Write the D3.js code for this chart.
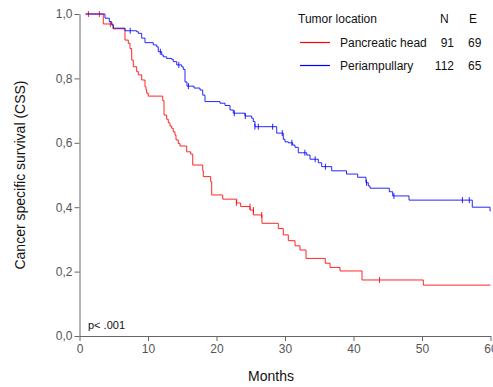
<!DOCTYPE html>
<html>
<head>
<meta charset="utf-8">
<script src="https://cdn.jsdelivr.net/npm/d3@7"></script>
<style>
  body { margin: 0; background: #fff; }
  svg { font-family: "Liberation Sans", Arial, sans-serif; }
</style>
</head>
<body>
<div id="chart"></div>
<script>
// step data: months, survival after each step
var headTimes = [0.9, 3.47, 4.89, 6.64, 7.12, 7.37, 7.62, 7.85, 8.35, 8.58, 9.08, 9.56, 9.71, 9.81, 10.04,
  12.15, 12.34, 12.73, 12.96, 13.21, 13.46, 13.69, 13.94, 14.09, 14.42, 14.67, 15.65, 16.23, 16.53,
  17.99, 18.07, 19.15, 19.30, 20.91, 22.95, 23.53, 24.89, 25.37, 26.64, 29.02, 29.75, 30.48, 31.46,
  32.19, 33.07, 35.88, 36.57, 38.03, 41.24, 50.19, 60];
var headSurv = [1.0, 0.969, 0.954, 0.919, 0.909, 0.893, 0.857, 0.836, 0.821, 0.811, 0.795, 0.774, 0.764, 0.754, 0.745,
  0.731, 0.686, 0.673, 0.662, 0.652, 0.645, 0.634, 0.624, 0.609, 0.598, 0.590, 0.572, 0.565, 0.531,
  0.513, 0.495, 0.479, 0.438, 0.425, 0.413, 0.402, 0.391, 0.376, 0.350, 0.334, 0.314, 0.296, 0.280,
  0.267, 0.241, 0.226, 0.213, 0.202, 0.174, 0.158, 0.158];
var headCensT = [1.3, 2.9, 4.5, 22.9, 24.9, 25.4, 26.6, 43.8];
var headCensS = [1.0, 1.0, 0.969, 0.413, 0.402, 0.391, 0.376, 0.174];

var periTimes = [0.9, 3.72, 4.35, 4.70, 4.93, 6.64, 8.35, 8.58, 9.08, 9.56, 10.77, 11.27, 11.50, 12.00, 12.23,
  12.73, 13.46, 13.69, 14.19, 14.92, 15.15, 15.40, 15.69, 16.72, 17.59, 17.99, 18.32, 20.51, 21.24,
  21.97, 22.45, 24.16, 25.14, 25.37, 25.62, 28.79, 29.75, 30.0, 30.48, 31.12, 31.46, 31.94, 33.17,
  33.65, 34.86, 35.36, 36.82, 38.98, 40.61, 41.82, 42.16, 42.41, 45.23, 45.72, 48.10, 57.34, 59.93, 60];
var periSurv = [1.0, 0.987, 0.976, 0.966, 0.956, 0.948, 0.945, 0.940, 0.925, 0.911, 0.904, 0.898, 0.883, 0.873, 0.867,
  0.862, 0.859, 0.852, 0.842, 0.836, 0.828, 0.789, 0.776, 0.770, 0.764, 0.748, 0.728, 0.723, 0.716,
  0.702, 0.692, 0.683, 0.676, 0.666, 0.650, 0.630, 0.611, 0.603, 0.600, 0.593, 0.586, 0.569, 0.562,
  0.549, 0.538, 0.526, 0.513, 0.503, 0.493, 0.476, 0.466, 0.459, 0.448, 0.435, 0.422, 0.400, 0.388, 0.388];
var periCensT = [7.4, 11.8, 14.5, 15.9, 22.6, 24.2, 25.6, 26.1, 28.2, 29.6, 31.0, 32.9, 34.4, 35.9, 41.9, 45.9, 55.9, 56.9];
var periCensS = [0.948, 0.883, 0.842, 0.776, 0.692, 0.683, 0.650, 0.650, 0.650, 0.630, 0.600, 0.569, 0.549, 0.526, 0.476, 0.435, 0.422, 0.422];

var groups = ["Pancreatic head", "Periampullary"];
var groupN = [91, 112];
var groupE = [69, 65];
var groupColors = ["#ff0000", "#0000ff"];

var xTicks = [0, 10, 20, 30, 40, 50, 60];
var yTicks = [0, 0.2, 0.4, 0.6, 0.8, 1.0];

function drawChart() {
  var W = 493, H = 387;
  var margin = {top: 14, right: 2.5, bottom: 51, left: 79.5};
  var width = W - margin.left - margin.right,
      height = H - margin.top - margin.bottom;

  var svg = d3.select("#chart").append("svg")
    .attr("width", W).attr("height", H)
    .style("overflow", "visible");

  var g = svg.append("g")
    .attr("transform", "translate(" + margin.left + "," + margin.top + ")");

  var x = d3.scaleLinear().domain([0, 60]).range([0, width]);
  var y = d3.scaleLinear().domain([0, 1]).range([height, 0]);

  // axes
  var xAxis = g.append("g")
    .attr("transform", "translate(0," + height + ")")
    .call(d3.axisBottom(x).tickValues(xTicks).tickSize(5).tickSizeOuter(0).tickPadding(3));
  var yAxis = g.append("g")
    .call(d3.axisLeft(y).tickValues(yTicks).tickSize(5).tickSizeOuter(0).tickPadding(2)
      .tickFormat(function(d) { return d3.format(".1f")(d).replace(".", ","); }));

  [xAxis, yAxis].forEach(function(a) {
    a.select(".domain").attr("stroke", "#666");
    a.selectAll(".tick line").attr("stroke", "#666");
    a.selectAll(".tick text").attr("fill", "#555")
      .style("font-size", "12px").style("font-family", "Liberation Sans, Arial, sans-serif");
  });

  // curves
  var line = d3.line()
    .x(function(d) { return x(d[0]); })
    .y(function(d) { return y(d[1]); })
    .curve(d3.curveStepAfter);

  var series = [
    {t: headTimes, s: headSurv, ct: headCensT, cs: headCensS, color: groupColors[0]},
    {t: periTimes, s: periSurv, ct: periCensT, cs: periCensS, color: groupColors[1]}
  ];

  series.forEach(function(sr) {
    var pts = sr.t.map(function(t, i) { return [t, sr.s[i]]; });
    g.append("path")
      .datum(pts)
      .attr("fill", "none")
      .attr("stroke", sr.color)
      .attr("stroke-width", 1)
      .attr("opacity", 0.85)
      .attr("d", line);

    var cens = sr.ct.map(function(t, i) { return [t, sr.cs[i]]; });
    g.selectAll(null)
      .data(cens)
      .enter()
      .append("line")
      .attr("x1", function(d) { return x(d[0]); })
      .attr("x2", function(d) { return x(d[0]); })
      .attr("y1", function(d) { return y(d[1]) - 3; })
      .attr("y2", function(d) { return y(d[1]) + 3; })
      .attr("stroke", sr.color)
      .attr("stroke-width", 1)
      .attr("opacity", 0.85);
  });

  // axis titles
  svg.append("text")
    .attr("x", margin.left + width / 2 - 14)
    .attr("y", 381)
    .attr("text-anchor", "middle")
    .style("font-size", "14px")
    .attr("fill", "#111")
    .text("Months");

  svg.append("text")
    .attr("transform", "translate(25," + (margin.top + height / 2) + ") rotate(-90)")
    .attr("text-anchor", "middle")
    .style("font-size", "14px")
    .attr("fill", "#111")
    .text("Cancer specific survival (CSS)");

  svg.append("text")
    .attr("x", 88).attr("y", 329)
    .style("font-size", "11px")
    .attr("fill", "#111")
    .text("p< .001");

  // legend
  var leg = svg.append("g").style("font-size", "12px").attr("fill", "#111");
  leg.append("text").attr("x", 298).attr("y", 23).text("Tumor location");
  leg.append("text").attr("x", 440).attr("y", 23).text("N");
  leg.append("text").attr("x", 469).attr("y", 23).text("E");

  groups.forEach(function(name, i) {
    var yy = 47 + i * 23;
    leg.append("line")
      .attr("x1", 300).attr("x2", 330)
      .attr("y1", yy - 4.5).attr("y2", yy - 4.5)
      .attr("stroke", groupColors[i]).attr("stroke-width", 1.2);
    leg.append("text").attr("x", 340).attr("y", yy).text(name);
    leg.append("text").attr("x", 454).attr("y", yy).attr("text-anchor", "end").text(groupN[i]);
    leg.append("text").attr("x", 468).attr("y", yy).text(groupE[i]);
  });
}

window.onload = drawChart;
</script>
</body>
</html>
